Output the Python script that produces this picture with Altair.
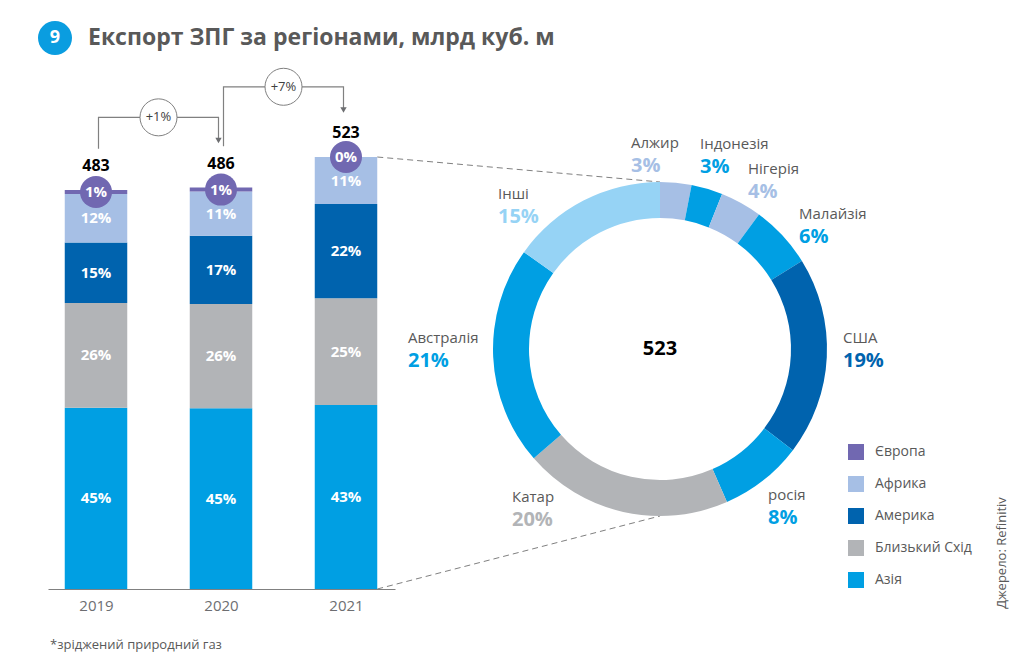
import altair as alt
import pandas as pd
import numpy as np

# ---------------- data ----------------
YEARS = [2019, 2020, 2021]
TOTALS = [483, 486, 523]
REGIONS = ["Європа", "Африка", "Америка", "Близький Схід", "Азія"]
SHARE_EUROPE = [1, 1, 0]
SHARE_AFRICA = [12, 11, 11]
SHARE_AMERICA = [15, 17, 22]
SHARE_MIDEAST = [26, 26, 25]
SHARE_ASIA = [45, 45, 43]
GROWTH = ["+1%", "+7%"]

COUNTRIES = ["Алжир", "Індонезія", "Нігерія", "Малайзія", "США", "росія", "Катар", "Австралія", "Інші"]
COUNTRY_SHARE = [3, 3, 4, 6, 19, 8, 20, 21, 15]
COUNTRY_GROUP = ["Африка", "Азія", "Африка", "Азія", "Америка", "Азія", "Близький Схід", "Азія", "Інші"]
DONUT_TOTAL = 523

# ---------------- styles / layout ----------------
COLORS = {"Європа": "#7168b1", "Африка": "#a6bfe5", "Америка": "#0063ae",
          "Близький Схід": "#b2b4b7", "Азія": "#009fe3", "Інші": "#96d3f5"}
TEXT_GRAY = "#595959"
LINE_GRAY = "#808080"
FONT = "Open Sans"

W, H_PLOT, H_TOTAL = 1033, 589, 662
X_RANGE = [48, 395]
X_STEP = 125.0
X_DOM = [YEARS[0] - (96 - X_RANGE[0]) / X_STEP, 0]
X_DOM[1] = X_DOM[0] + (X_RANGE[1] - X_RANGE[0]) / X_STEP
Y_TOP = TOTALS[-1] * H_PLOT / 432.0
BAR_HALF = 0.25

CX, CY, R_OUT, R_IN = 660, 349, 167, 131

XS = alt.Scale(domain=X_DOM, range=X_RANGE, nice=False, zero=False)
YS = alt.Scale(domain=[0, Y_TOP], nice=False, zero=True)

# ---------------- bar table ----------------
shares = {"Європа": SHARE_EUROPE, "Африка": SHARE_AFRICA, "Америка": SHARE_AMERICA,
          "Близький Схід": SHARE_MIDEAST, "Азія": SHARE_ASIA}
stack_order = ["Азія", "Близький Схід", "Америка", "Африка", "Європа"]
rows = []
for i, yr in enumerate(YEARS):
    tot_share = sum(shares[r][i] for r in REGIONS)
    base = 0.0
    for r in stack_order:
        v = TOTALS[i] * shares[r][i] / tot_share
        rows.append({"year": yr, "region": r, "share": shares[r][i],
                     "y0": base, "y1": base + v, "mid": base + v / 2,
                     "label": f"{shares[r][i]}%"})
        base += v
bars = pd.DataFrame(rows)
totals = pd.DataFrame({"year": YEARS, "total": TOTALS})

def X(field):
    return alt.X(field, type="quantitative", scale=XS, title=None)

def Y(field):
    return alt.Y(field, type="quantitative", scale=YS, axis=None)

bar_layer = alt.Chart(bars).transform_calculate(
    x0=f"datum.year - {BAR_HALF}", x1=f"datum.year + {BAR_HALF}"
).mark_bar().encode(
    x=alt.X("x0:Q", scale=XS, title=None,
            axis=alt.Axis(values=YEARS, format="d", ticks=False, grid=False,
                          domainColor=LINE_GRAY, domainWidth=1.2, labelColor="#6d6e71",
                          labelFontSize=15, labelPadding=9, labelFont=FONT)),
    x2="x1:Q",
    y=Y("y0"),
    y2="y1:Q",
    color=alt.Color("region:N", scale=alt.Scale(domain=REGIONS, range=[COLORS[r] for r in REGIONS]),
                    legend=alt.Legend(title=None, orient="none", legendX=848, legendY=444,
                                      symbolType="square", symbolSize=256, symbolStrokeWidth=0,
                                      labelFontSize=14, labelColor=TEXT_GRAY, labelFont=FONT,
                                      rowPadding=16, labelOffset=11, padding=0)),
)

seg_labels = alt.Chart(bars).transform_filter("datum.region != 'Європа'").mark_text(
    color="white", fontWeight="bold", fontSize=15, font=FONT
).encode(x=X("year"), y=Y("mid"), text="label:N")

eu = bars[bars.region == "Європа"]
eu_circle = alt.Chart(eu).mark_point(filled=True, size=1024, opacity=1, color=COLORS["Європа"]).encode(
    x=X("year"), y=Y("mid"))
eu_text = alt.Chart(eu).mark_text(color="white", fontWeight="bold", fontSize=15, font=FONT).encode(
    x=X("year"), y=Y("mid"), text="label:N")

total_text = alt.Chart(totals).mark_text(dy=-24, fontWeight="bold", fontSize=16, color="black", font=FONT).encode(
    x=X("year"), y=Y("total"), text="total:Q")

# ---------------- growth brackets ----------------
brk_rows, brk_pts = [], []
for i in range(len(YEARS) - 1):
    xs_, xe_ = YEARS[i] + 0.02, YEARS[i + 1] - 0.02
    ys_, yh_, ye_ = TOTALS[i] + 50, TOTALS[i + 1] + 85, TOTALS[i + 1] + 57
    for k, (px, py) in enumerate([(xs_, ys_), (xs_, yh_), (xe_, yh_), (xe_, ye_)]):
        brk_pts.append({"b": i, "k": k, "x": px, "y": py})
    brk_rows.append({"b": i, "xm": (xs_ + xe_) / 2, "yh": yh_, "xe": xe_, "ye": ye_, "g": GROWTH[i]})
brk_pts = pd.DataFrame(brk_pts)
brk = pd.DataFrame(brk_rows)

brk_lines = alt.Chart(brk_pts).mark_line(color=LINE_GRAY, strokeWidth=1.2).encode(
    x=X("x"), y=Y("y"), detail="b:N", order="k:Q")
brk_arrow = alt.Chart(brk).mark_point(shape="triangle-down", filled=True, size=40, opacity=1,
                                      color="#6d6e71").encode(x=X("xe"), y=Y("ye"))
brk_circle = alt.Chart(brk).mark_point(filled=True, fill="white", stroke=LINE_GRAY, strokeWidth=1,
                                       size=1369, opacity=1).encode(x=X("xm"), y=Y("yh"))
brk_text = alt.Chart(brk).mark_text(fontSize=13, color="#404040", font=FONT).encode(
    x=X("xm"), y=Y("yh"), text="g:N")

# ---------------- connectors ----------------
conn = pd.DataFrame({"year": [YEARS[-1], YEARS[-1]], "yv": [TOTALS[-1], 0], "which": ["top", "bottom"]})
conn_top = alt.Chart(conn).transform_filter("datum.which == 'top'").transform_calculate(
    xr=f"datum.year + {BAR_HALF}").mark_rule(color=LINE_GRAY, strokeDash=[6, 4], strokeWidth=1).encode(
    x=X("xr:Q"), y=Y("yv"), x2=alt.value(CX), y2=alt.value(CY - R_OUT))
conn_bot = alt.Chart(conn).transform_filter("datum.which == 'bottom'").transform_calculate(
    xr=f"datum.year + {BAR_HALF}").mark_rule(color=LINE_GRAY, strokeDash=[6, 4], strokeWidth=1).encode(
    x=X("xr:Q"), y=Y("yv"), x2=alt.value(CX), y2=alt.value(CY + R_OUT))

# ---------------- donut ----------------
cum = np.cumsum([0] + COUNTRY_SHARE)
donut = pd.DataFrame({"country": COUNTRIES, "share": COUNTRY_SHARE,
                      "s0": cum[:-1], "s1": cum[1:],
                      "col": [COLORS[g] for g in COUNTRY_GROUP],
                      "pct": [f"{s}%" for s in COUNTRY_SHARE]})
TS = alt.Scale(domain=[0, int(cum[-1])], range=[0, 2 * np.pi])
arc = alt.Chart(donut).mark_arc(innerRadius=R_IN, outerRadius=R_OUT).encode(
    theta=alt.Theta("s0:Q", scale=TS), theta2="s1:Q",
    fill=alt.Fill("col:N", scale=None), x=alt.value(CX), y=alt.value(CY))

# label anchors (left edge of each label block), offsets from donut centre, px
LABEL_DX = [-29, 40, 88, 139, 183, 108, -148, -252, -162]
LABEL_DY = [-195, -194, -169, -124, 0, 157, 159, 0, -144]
lab = donut.copy()
lab["ang"] = np.arctan2(LABEL_DX, -np.array(LABEL_DY))
lab["rad"] = np.hypot(LABEL_DX, LABEL_DY)
name_text = alt.Chart(lab).mark_text(align="left", dy=-11, fontSize=15, color=TEXT_GRAY, font=FONT).encode(
    theta=alt.Theta("ang:Q", scale=None), radius=alt.Radius("rad:Q", scale=None),
    x=alt.value(CX), y=alt.value(CY), text="country:N")
pct_text = alt.Chart(lab).mark_text(align="left", dy=12, fontSize=20, fontWeight="bold", font=FONT).encode(
    theta=alt.Theta("ang:Q", scale=None), radius=alt.Radius("rad:Q", scale=None),
    x=alt.value(CX), y=alt.value(CY), text="pct:N", fill=alt.Fill("col:N", scale=None))

centre = alt.Chart(pd.DataFrame({"t": [DONUT_TOTAL]})).mark_text(
    fontSize=20, fontWeight="bold", color="black", font=FONT).encode(
    x=alt.value(CX), y=alt.value(CY), text="t:Q")

# ---------------- titles / notes ----------------
one = pd.DataFrame({"a": [0]})
badge = alt.Chart(one).mark_point(filled=True, size=1156, opacity=1, color="#0a9de0").encode(
    x=alt.value(55), y=alt.value(38))
badge_t = alt.Chart(one).mark_text(text="9", color="white", fontWeight="bold", fontSize=18, font=FONT).encode(
    x=alt.value(55), y=alt.value(38))
title = alt.Chart(one).mark_text(text="Експорт ЗПГ за регіонами, млрд куб. м", align="left", baseline="middle",
                                 color=TEXT_GRAY, fontWeight="bold", fontSize=23, font=FONT).encode(
    x=alt.value(88), y=alt.value(38))
foot = alt.Chart(one).mark_text(text="*зріджений природний газ", align="left", baseline="middle",
                                color=TEXT_GRAY, fontSize=13, font=FONT).encode(x=alt.value(50), y=alt.value(645))
source = alt.Chart(one).mark_text(text="Джерело: Refinitiv", angle=270, baseline="middle",
                                  color=TEXT_GRAY, fontSize=13, font=FONT).encode(x=alt.value(1002), y=alt.value(553))

chart = alt.layer(
    conn_top, conn_bot, bar_layer, seg_labels, eu_circle, eu_text, total_text,
    brk_lines, brk_arrow, brk_circle, brk_text,
    arc, name_text, pct_text, centre,
    badge, badge_t, title, foot, source,
).properties(
    width=W, height=H_PLOT, autosize="none",
    padding={"left": 0, "top": 0, "right": 0, "bottom": H_TOTAL - H_PLOT},
    background="white",
).configure_view(stroke=None)

chart.save("out.html", embed_options={"renderer": "svg", "actions": False})
